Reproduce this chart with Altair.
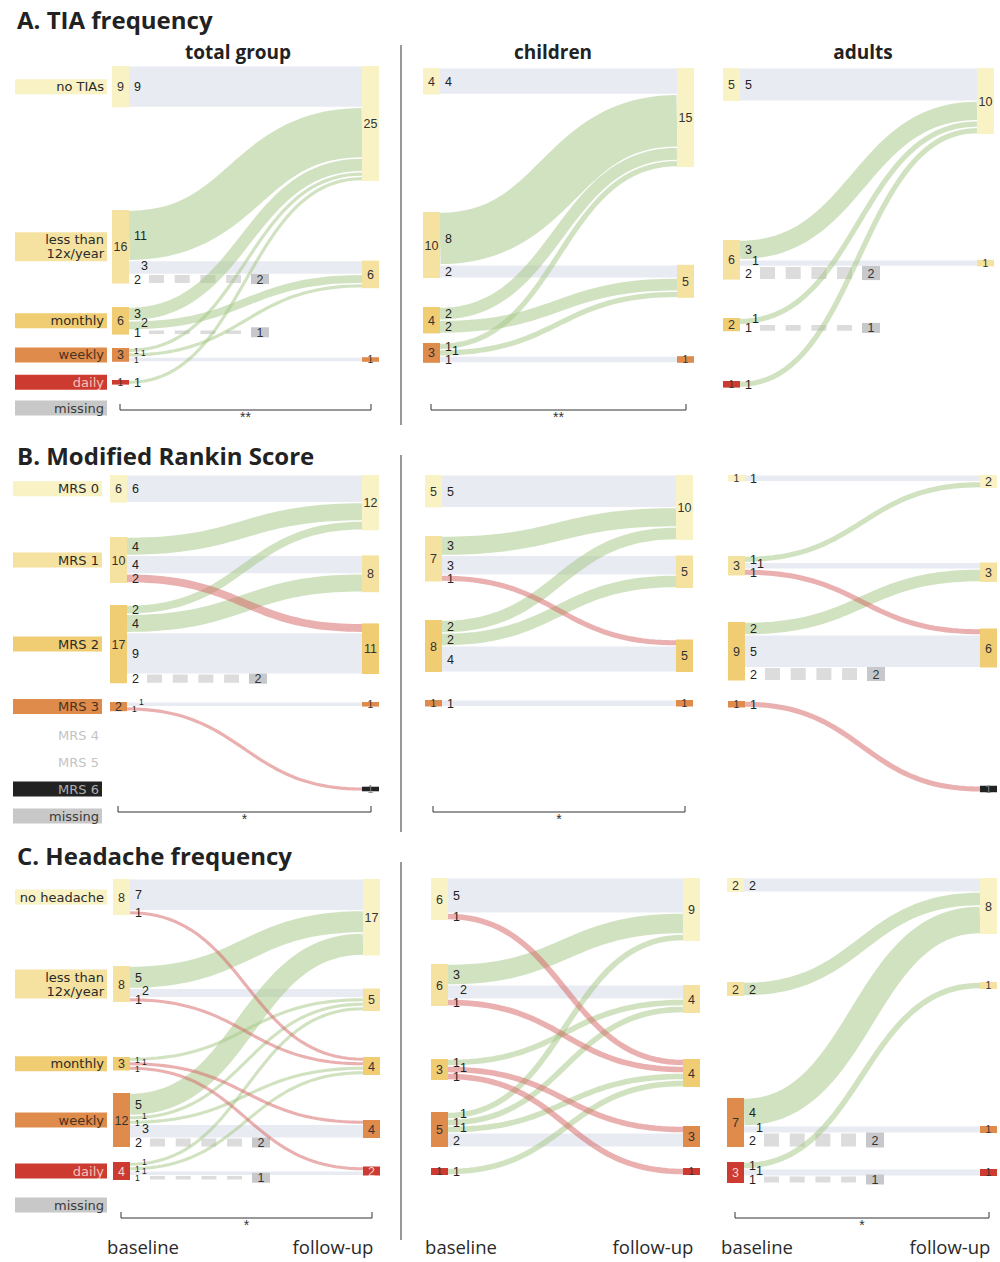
import altair as alt
import numpy as np
import pandas as pd

# ---------------------------------------------------------------- data
groups = ["total group", "children", "adults"]
section_titles = ["A. TIA frequency", "B. Modified Rankin Score", "C. Headache frequency"]
time_points = ["baseline", "follow-up"]

tia_levels = ["no TIAs", "less than\n12x/year", "monthly", "weekly", "daily", "missing"]
mrs_levels = ["MRS 0", "MRS 1", "MRS 2", "MRS 3", "MRS 4", "MRS 5", "MRS 6", "missing"]
headache_levels = ["no headache", "less than\n12x/year", "monthly", "weekly", "daily", "missing"]

# transitions as (baseline level, follow-up level, patients);
# the last level of every scale is "missing"
tia_total = [(0, 0, 9), (1, 0, 11), (1, 1, 3), (1, 5, 2), (2, 0, 3), (2, 1, 2), (2, 5, 1),
             (3, 0, 1), (3, 1, 1), (3, 3, 1), (4, 0, 1)]
tia_children = [(0, 0, 4), (1, 0, 8), (1, 1, 2), (2, 0, 2), (2, 1, 2),
                (3, 0, 1), (3, 1, 1), (3, 3, 1)]
tia_adults = [(0, 0, 5), (1, 0, 3), (1, 1, 1), (1, 5, 2), (2, 0, 1), (2, 5, 1), (4, 0, 1)]

mrs_total = [(0, 0, 6), (1, 0, 4), (1, 1, 4), (1, 2, 2), (2, 0, 2), (2, 1, 4), (2, 2, 9),
             (2, 7, 2), (3, 3, 1), (3, 6, 1)]
mrs_children = [(0, 0, 5), (1, 0, 3), (1, 1, 3), (1, 2, 1), (2, 0, 2), (2, 1, 2), (2, 2, 4),
                (3, 3, 1)]
mrs_adults = [(0, 0, 1), (1, 0, 1), (1, 1, 1), (1, 2, 1), (2, 1, 2), (2, 2, 5), (2, 7, 2),
              (3, 6, 1)]

headache_total = [(0, 0, 7), (0, 2, 1), (1, 0, 5), (1, 1, 2), (1, 2, 1),
                  (2, 1, 1), (2, 3, 1), (2, 4, 1),
                  (3, 0, 5), (3, 1, 1), (3, 2, 1), (3, 3, 3), (3, 5, 2),
                  (4, 1, 1), (4, 2, 1), (4, 4, 1), (4, 5, 1)]
headache_children = [(0, 0, 5), (0, 2, 1), (1, 0, 3), (1, 1, 2), (1, 2, 1),
                     (2, 1, 1), (2, 3, 1), (2, 4, 1),
                     (3, 0, 1), (3, 1, 1), (3, 2, 1), (3, 3, 2), (4, 2, 1)]
headache_adults = [(0, 0, 2), (1, 0, 2), (3, 0, 4), (3, 3, 1), (3, 5, 2),
                   (4, 1, 1), (4, 4, 1), (4, 5, 1)]

# significance of baseline vs follow-up per group
tia_sig = ["**", "**", ""]
mrs_sig = ["*", "*", ""]
headache_sig = ["*", "", "*"]

# ---------------------------------------------------------------- styling
FREQ_FILL = ["#f8f2c4", "#f6e2a0", "#f0cd72", "#df8b4b", "#cc3a30", "#c8c8c8"]
FREQ_TEXT = ["#2a2a2a", "#2a2a2a", "#2a2a2a", "#4a3220", "#f4c2ba", "#3a3a3a"]
MRS_FILL = ["#f8f2c4", "#f6e2a0", "#f0cd72", "#df8b4b", None, None, "#222222", "#c8c8c8"]
MRS_TEXT = ["#2a2a2a", "#2a2a2a", "#2a2a2a", "#4a3220", "#c4c4c4", "#c4c4c4", "#b0b0b0", "#3a3a3a"]

GREEN = "#a3c584"
RED = "#d66262"
STAY = "#e8ebf1"
DASH = "#dcdcdc"
DASH_BOX = "#c6c8cc"
INK = "#222222"
NUM_FONT = "Liberation Sans"
LABEL_FONT = "DejaVu Sans"
HEAD_FONT = "Open Sans"

W, H = 1000, 1262
NODE_W = 17

# ---------------------------------------------------------------- layout
sections = [
    dict(levels=tia_levels, panels=[tia_total, tia_children, tia_adults], sig=tia_sig,
         fill=FREQ_FILL, text=FREQ_TEXT, title_y=22, sep=(45, 425), bracket_y=410,
         box_x=(15, 107), xs=[(112, 362), (423, 677), (723, 977)], unit=[4.6, 6.6, 6.6],
         tops=[{0: 66, 1: 210, 2: 307, 3: 348, 4: 380},
               {0: 68, 1: 212, 2: 307, 3: 343},
               {0: 68, 1: 240, 2: 318, 4: 381}],
         spare={5: 408}),
    dict(levels=mrs_levels, panels=[mrs_total, mrs_children, mrs_adults], sig=mrs_sig,
         fill=MRS_FILL, text=MRS_TEXT, title_y=458, sep=(455, 832), bracket_y=812,
         box_x=(13, 102), xs=[(110, 362), (425, 676), (728, 980)], unit=[4.6, 6.5, 6.5],
         tops=[{0: 475, 1: 537, 2: 605, 3: 702},
               {0: 475, 1: 536, 2: 620, 3: 700},
               {0: 475, 1: 556, 2: 622, 3: 701}],
         spare={4: 735, 5: 762, 6: 789, 7: 816}),
    dict(levels=headache_levels, panels=[headache_total, headache_children, headache_adults],
         sig=headache_sig, fill=FREQ_FILL, text=FREQ_TEXT, title_y=858, sep=(862, 1240),
         bracket_y=1218, box_x=(15, 107), xs=[(113, 363), (431, 683), (727, 980)],
         unit=[4.5, 7.0, 7.0],
         tops=[{0: 879, 1: 966, 2: 1057, 3: 1093, 4: 1162},
               {0: 878, 1: 964, 2: 1059, 3: 1112, 4: 1168},
               {0: 878, 1: 982, 3: 1098, 4: 1162}],
         spare={5: 1205}),
]
HEADER_Y = 53
FOOTER_Y = 1248
HEADER_X = [238, 553, 863]


def bezier(x0, y0, x1, y1, n=48):
    t = np.linspace(0.0, 1.0, n)
    xm = (x0 + x1) / 2.0
    x = (1 - t) ** 3 * x0 + 3 * (1 - t) ** 2 * t * xm + 3 * (1 - t) * t ** 2 * xm + t ** 3 * x1
    y = (1 - t) ** 3 * y0 + 3 * (1 - t) ** 2 * t * y0 + 3 * (1 - t) * t ** 2 * y1 + t ** 3 * y1
    return t, x, y


nodes, node_txt, stays, curves, flow_txt = [], [], [], [], []
dashes, dboxes, dbox_txt = [], [], []
cat_boxes, cat_txt, rules, stars = [], [], [], []
titles, headers, footers = [], [], []
fid = 0

for si, s in enumerate(sections):
    levels = s["levels"]
    miss = len(levels) - 1
    row_center = {}
    titles.append(dict(x=17, y=s["title_y"], text=section_titles[si]))
    rules.append(dict(x=401, x2=401, y=s["sep"][0], y2=s["sep"][1]))

    for p, flows in enumerate(s["panels"]):
        u = s["unit"][p]
        bx, fx = s["xs"][p]
        tops = s["tops"][p]
        base_n, foll_n = {}, {}
        for a, b, n in flows:
            base_n[a] = base_n.get(a, 0) + n
            if b != miss:
                foll_n[b] = foll_n.get(b, 0) + n
        if p == 0:
            for a in base_n:
                row_center[a] = tops[a] + base_n[a] * u / 2
            row_center.update(s["spare"])

        # where each transition leaves its baseline node
        out_y = {}
        for a in sorted(base_n):
            y = tops[a]
            for fa, fb, n in sorted([f for f in flows if f[0] == a], key=lambda f: f[1]):
                out_y[(fa, fb)] = y
                y += n * u

        # follow-up nodes: unchanged patients run straight across
        ftop = {}
        for b in sorted(foll_n):
            if (b, b) in out_y:
                before = sum(n for fa, fb, n in flows if fb == b and fa < b)
                ftop[b] = out_y[(b, b)] - before * u
            elif b in tops:
                ftop[b] = tops[b]
            else:
                ftop[b] = row_center[b] - foll_n[b] * u / 2
        in_y = {}
        for b in sorted(foll_n):
            y = ftop[b]
            for fa, fb, n in sorted([f for f in flows if f[1] == b], key=lambda f: f[0]):
                in_y[(fa, fb)] = y
                y += n * u

        def add_node(x0, top, n, lvl):
            h = n * u
            fill = s["fill"][lvl]
            nodes.append(dict(x=x0, x2=x0 + NODE_W, y=top, y2=top + h, c=fill))
            if h >= 9 and fill == "#cc3a30":
                col = "#f6d6d2"
            elif h >= 9 and fill == "#222222":
                col = "#9a9a9a"
            else:
                col = "#333333" if fill != "#222222" else "#888888"
            node_txt.append(dict(x=x0 + NODE_W / 2, y=top + h / 2 + 0.5, text=str(n),
                                 size=12.5 if h >= 9 else 10.5, c=col))

        for a in sorted(base_n):
            add_node(bx, tops[a], base_n[a], a)
        for b in sorted(foll_n):
            add_node(fx, ftop[b], foll_n[b], b)

        x_out = bx + NODE_W
        for a in sorted(base_n):
            outs = sorted([f for f in flows if f[0] == a], key=lambda f: f[1])
            centers = [out_y[(fa, fb)] + n * u / 2 for fa, fb, n in outs]
            shifted = [False] * len(outs)
            for k in range(len(outs) - 2, -1, -1):
                if centers[k + 1] - centers[k] < 12 and not shifted[k + 1]:
                    shifted[k] = True
            for k, (fa, fb, n) in enumerate(outs):
                gaps = [abs(centers[k] - centers[j]) for j in (k - 1, k + 1) if 0 <= j < len(outs)]
                gap = min(gaps) if gaps else 99
                size = 12.5 if gap >= 6 else 8.5
                y0 = out_y[(fa, fb)]
                w = n * u
                flow_txt.append(dict(x=x_out + 5 + (7 if shifted[k] else 0),
                                     y=centers[k] - (2.5 if shifted[k] else 0) + 0.5,
                                     text=str(n), size=size))
                if fb == miss:
                    dashes.append(dict(x=x_out + 20, x2=x_out + 112, y=y0 + w / 2, w=w - 1))
                    bh = max(w + 1, 10)
                    dboxes.append(dict(x=x_out + 122, x2=x_out + 140,
                                       y=y0 + w / 2 - bh / 2, y2=y0 + w / 2 + bh / 2))
                    dbox_txt.append(dict(x=x_out + 131, y=y0 + w / 2 + 0.5, text=str(n)))
                elif fa == fb:
                    stays.append(dict(x=x_out, x2=fx, y=y0 + 0.6, y2=y0 + w - 0.6))
                else:
                    y1 = in_y[(fa, fb)]
                    t, xx, yy = bezier(x_out, y0 + w / 2, fx, y1 + w / 2)
                    kind = "better" if fb < fa else "worse"
                    for ti, xi, yi in zip(t, xx, yy):
                        curves.append(dict(fid=fid, t=ti, x=xi, y=yi, w=w - 1.4, kind=kind))
                    fid += 1

        # bracket with significance
        if s["sig"][p]:
            by = s["bracket_y"]
            xa, xb = bx + 8, fx + 9
            rules.append(dict(x=xa, x2=xb, y=by, y2=by))
            rules.append(dict(x=xa, x2=xa, y=by - 6, y2=by))
            rules.append(dict(x=xb, x2=xb, y=by - 6, y2=by))
            stars.append(dict(x=(xa + xb) / 2, y=by + 8, text=s["sig"][p]))

        if si == 0:
            headers.append(dict(x=HEADER_X[p], y=HEADER_Y, text=groups[p]))
        if si == 2:
            footers.append(dict(x=bx + 30, y=FOOTER_Y, text=time_points[0]))
            footers.append(dict(x=fx - 30, y=FOOTER_Y, text=time_points[1]))

    # category names down the left-hand side
    x0, x1 = s["box_x"]
    for i, name in enumerate(levels):
        yc = row_center[i]
        half = 14.5 if "\n" in name else 7.5
        if s["fill"][i] is not None:
            cat_boxes.append(dict(x=x0, x2=x1, y=yc - half, y2=yc + half, c=s["fill"][i]))
        cat_txt.append(dict(x=x1 - 3, y=yc + (-7 if "\n" in name else 0) + 0.5, text=name,
                            c=s["text"][i]))

# ---------------------------------------------------------------- chart
XS = alt.Scale(domain=[0, W], nice=False, zero=False)
YS = alt.Scale(domain=[0, H], reverse=True, nice=False, zero=False)


def X(f="x"):
    return alt.X(f"{f}:Q", scale=XS, axis=None)


def Y(f="y"):
    return alt.Y(f"{f}:Q", scale=YS, axis=None)


df = pd.DataFrame
curve_df = df(curves)

layers = [
    alt.Chart(df(cat_boxes)).mark_rect().encode(
        x=X(), x2="x2:Q", y=Y(), y2="y2:Q", color=alt.Color("c:N", scale=None)),
    alt.Chart(df(cat_txt)).mark_text(align="right", baseline="middle", font=LABEL_FONT,
                                     fontSize=13, lineBreak="\n", lineHeight=14).encode(
        x=X(), y=Y(), text="text:N", color=alt.Color("c:N", scale=None)),
    alt.Chart(df(stays)).mark_rect(color=STAY).encode(x=X(), x2="x2:Q", y=Y(), y2="y2:Q"),
    alt.Chart(df(dashes)).mark_rule(color=DASH, strokeDash=[15, 10.7]).encode(
        x=X(), x2="x2:Q", y=Y(), size=alt.Size("w:Q", scale=None)),
    alt.Chart(df(dboxes)).mark_rect(color=DASH_BOX).encode(x=X(), x2="x2:Q", y=Y(), y2="y2:Q"),
    alt.Chart(curve_df[curve_df.kind == "better"]).mark_line(
        color=GREEN, strokeOpacity=0.5, strokeCap="butt").encode(
        x=X(), y=Y(), detail="fid:N", order="t:Q", size=alt.Size("w:Q", scale=None)),
    alt.Chart(curve_df[curve_df.kind == "worse"]).mark_line(
        color=RED, strokeOpacity=0.5, strokeCap="butt").encode(
        x=X(), y=Y(), detail="fid:N", order="t:Q", size=alt.Size("w:Q", scale=None)),
    alt.Chart(df(nodes)).mark_rect().encode(
        x=X(), x2="x2:Q", y=Y(), y2="y2:Q", color=alt.Color("c:N", scale=None)),
    alt.Chart(df(node_txt)).mark_text(align="center", baseline="middle", font=NUM_FONT).encode(
        x=X(), y=Y(), text="text:N", size=alt.Size("size:Q", scale=None),
        color=alt.Color("c:N", scale=None)),
    alt.Chart(df(flow_txt)).mark_text(align="left", baseline="middle", font=NUM_FONT,
                                      color=INK).encode(
        x=X(), y=Y(), text="text:N", size=alt.Size("size:Q", scale=None)),
    alt.Chart(df(dbox_txt)).mark_text(align="center", baseline="middle", font=NUM_FONT,
                                      fontSize=12.5, color="#333333").encode(
        x=X(), y=Y(), text="text:N"),
    alt.Chart(df(rules)).mark_rule(color="#333333", strokeWidth=1).encode(
        x=X(), x2="x2:Q", y=Y(), y2="y2:Q"),
    alt.Chart(df(stars)).mark_text(align="center", baseline="middle", font=NUM_FONT,
                                   fontSize=14, color="#333333").encode(
        x=X(), y=Y(), text="text:N"),
    alt.Chart(df(titles)).mark_text(align="left", baseline="middle", font=HEAD_FONT,
                                    fontSize=24, fontWeight="bold", color="#222222").encode(
        x=X(), y=Y(), text="text:N"),
    alt.Chart(df(headers)).mark_text(align="center", baseline="middle", font=HEAD_FONT,
                                     fontSize=19, fontWeight="bold", color="#222222").encode(
        x=X(), y=Y(), text="text:N"),
    alt.Chart(df(footers)).mark_text(align="center", baseline="middle", font=HEAD_FONT,
                                     fontSize=18.5, color="#2a2a2a").encode(
        x=X(), y=Y(), text="text:N"),
]

chart = alt.layer(*layers).properties(
    width=W, height=H, padding=0, autosize=alt.AutoSizeParams(type="none")
).configure_view(stroke=None)

chart.save("out.html", embed_options={"renderer": "svg", "actions": False})
